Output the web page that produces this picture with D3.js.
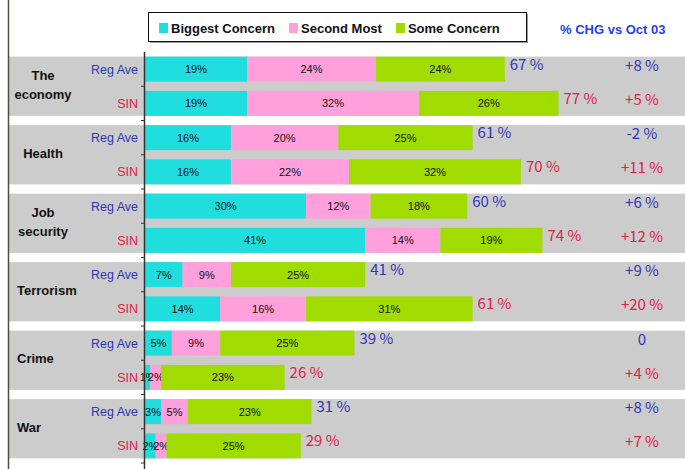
<!DOCTYPE html>
<html>
<head>
<meta charset="utf-8">
<script src="https://cdn.jsdelivr.net/npm/d3@7"></script>
<style>
  body { margin: 0; background: #fff; }
  svg { display: block; }
</style>
</head>
<body>
<main></main>
<script>
// chart values
const categories = ['The\neconomy', 'Health', 'Job\nsecurity', 'Terrorism', 'Crime', 'War']
const seriesNames = ['Reg Ave', 'SIN']
const legendLabels = ['Biggest Concern', 'Second Most', 'Some Concern']

const biggestReg = [19, 16, 30, 7, 5, 3]
const secondReg = [24, 20, 12, 9, 9, 5]
const someReg = [24, 25, 18, 25, 25, 23]

const biggestSin = [19, 16, 41, 14, 1, 2]
const secondSin = [32, 22, 14, 16, 2, 2]
const someSin = [26, 32, 19, 31, 23, 25]

const changeReg = ['+8 %', '-2 %', '+6 %', '+9 %', '0', '+8 %']
const changeSin = ['+5 %', '+11 %', '+12 %', '+20 %', '+4 %', '+7 %']

const headerText = '% CHG vs Oct 03'

const width = 685
const height = 469
const colors = ['#21dede', '#ff9fdc', '#a0dc00']
const blue = '#2f36b4'
const red = '#e0204a'

// build one row per category x series
const rows = []
categories.forEach(function (c, i) {
  rows.push({ key: c + '|reg', cat: i, series: 0, big: biggestReg[i], second: secondReg[i], some: someReg[i], change: changeReg[i] })
  rows.push({ key: c + '|sin', cat: i, series: 1, big: biggestSin[i], second: secondSin[i], some: someSin[i], change: changeSin[i] })
})
rows.forEach(r => { r.total = r.big + r.second + r.some })

const keys = ['big', 'second', 'some']
const stacked = d3.stack().keys(keys)(rows)

const x = d3.scaleLinear().domain([0, 100]).range([145, 682])
const y = d3.scaleBand()
  .domain(rows.map(r => r.key))
  .range([52, 463])
  .paddingInner(0.27)
  .paddingOuter(0.135)

const svg = d3.select('main')
  .append('svg')
  .attr('width', width)
  .attr('height', height)
  .attr('viewBox', '0,0,' + width + ',' + height)

// grey group bands
svg.append('g')
  .selectAll('rect')
  .data(categories)
  .enter()
  .append('rect')
  .attr('x', 9)
  .attr('width', width - 9)
  .attr('y', (d, i) => y(rows[i * 2].key))
  .attr('height', (d, i) => y(rows[i * 2 + 1].key) + y.bandwidth() - y(rows[i * 2].key))
  .style('fill', '#cccccc')

// left border line
svg.append('line')
  .attr('x1', 8.5).attr('x2', 8.5)
  .attr('y1', 0).attr('y2', height)
  .style('stroke', '#4f4f3a')
  .style('stroke-width', '1.5px')

// stacked bars
const layer = svg.append('g')
  .selectAll('g')
  .data(stacked)
  .enter()
  .append('g')
  .style('fill', (d, i) => colors[i])

layer.selectAll('rect')
  .data(d => d)
  .enter()
  .append('rect')
  .attr('x', d => x(d[0]))
  .attr('width', d => x(d[1]) - x(d[0]))
  .attr('y', d => y(d.data.key))
  .attr('height', y.bandwidth())

// values inside segments
layer.selectAll('text')
  .data(d => d)
  .enter()
  .append('text')
  .attr('x', d => (x(d[0]) + x(d[1])) / 2)
  .attr('y', d => y(d.data.key) + y.bandwidth() / 2 + 4)
  .attr('text-anchor', 'middle')
  .style('font-family', '"Liberation Sans", Arial, sans-serif')
  .style('font-size', '11px')
  .style('fill', '#111')
  .text(d => (d[1] - d[0]) + '%')

// axis line and ticks
svg.append('line')
  .attr('x1', 144.5).attr('x2', 144.5)
  .attr('y1', 52).attr('y2', height)
  .style('stroke', '#333')
  .style('stroke-width', '1.5px')

svg.append('g')
  .selectAll('line')
  .data(rows)
  .enter()
  .append('line')
  .attr('x1', 141).attr('x2', 145)
  .attr('y1', d => y(d.key) + y.bandwidth() + (y.step() - y.bandwidth()) / 2)
  .attr('y2', d => y(d.key) + y.bandwidth() + (y.step() - y.bandwidth()) / 2)
  .style('stroke', '#333')
  .style('stroke-width', '1px')

// series labels (Reg Ave / SIN)
svg.append('g')
  .selectAll('text')
  .data(rows)
  .enter()
  .append('text')
  .attr('x', 138)
  .attr('y', d => y(d.key) + y.bandwidth() / 2 + 4.5)
  .attr('text-anchor', 'end')
  .style('font-family', '"Liberation Sans", Arial, sans-serif')
  .style('font-size', '12.5px')
  .style('fill', d => d.series === 0 ? blue : red)
  .text(d => seriesNames[d.series])

// category labels
svg.append('g')
  .selectAll('text')
  .data(categories)
  .enter()
  .append('text')
  .attr('text-anchor', (d, i) => i < 3 ? 'middle' : 'start')
  .style('font-family', '"Liberation Sans", Arial, sans-serif')
  .style('font-weight', 'bold')
  .style('font-size', '13px')
  .style('fill', '#111')
  .each(function (d, i) {
    const lines = d.split('\n')
    const top = y(rows[i * 2].key)
    const bottom = y(rows[i * 2 + 1].key) + y.bandwidth()
    const mid = (top + bottom) / 2 - 2
    const lh = 19
    const tx = i < 3 ? 43 : 17
    d3.select(this)
      .selectAll('tspan')
      .data(lines)
      .enter()
      .append('tspan')
      .attr('x', tx)
      .attr('y', (l, k) => mid + 5 + (k - (lines.length - 1) / 2) * lh)
      .text(l => l)
  })

// totals after bars
svg.append('g')
  .selectAll('text')
  .data(rows)
  .enter()
  .append('text')
  .attr('x', d => x(d.total) + 5)
  .attr('y', d => y(d.key) + y.bandwidth() / 2 + 0.5)
  .style('font-family', '"Noto Sans CJK JP", "DejaVu Sans", sans-serif')
  .style('font-weight', '400')
  .style('font-size', '15px')
  .style('fill', d => d.series === 0 ? blue : red)
  .text(d => d.total + ' %')

// change column
svg.append('g')
  .selectAll('text')
  .data(rows)
  .enter()
  .append('text')
  .attr('x', 642)
  .attr('y', d => y(d.key) + y.bandwidth() / 2 + 1.5)
  .attr('text-anchor', 'middle')
  .style('font-family', '"Noto Sans CJK JP", "DejaVu Sans", sans-serif')
  .style('font-weight', '400')
  .style('font-size', '15px')
  .style('fill', d => d.series === 0 ? blue : red)
  .text(d => d.change)

// header
svg.append('text')
  .attr('x', 560)
  .attr('y', 34)
  .style('font-family', '"Liberation Sans", Arial, sans-serif')
  .style('font-weight', 'bold')
  .style('font-size', '13px')
  .style('fill', '#1f3ff0')
  .text(headerText)

// legend
const legend = svg.append('g')
legend.append('rect')
  .attr('x', 150).attr('y', 14)
  .attr('width', 378).attr('height', 29)
  .style('fill', '#999')
legend.append('rect')
  .attr('x', 148.5).attr('y', 12.5)
  .attr('width', 378).attr('height', 29)
  .style('fill', '#fff')
  .style('stroke', '#111')
  .style('stroke-width', '1px')

let lx = 159
legendLabels.forEach(function (label, i) {
  legend.append('rect')
    .attr('x', lx).attr('y', 23)
    .attr('width', 9).attr('height', 10)
    .style('fill', colors[i])
  const t = legend.append('text')
    .attr('x', lx + 12)
    .attr('y', 32.5)
    .style('font-family', '"Liberation Sans", Arial, sans-serif')
    .style('font-weight', 'bold')
    .style('font-size', '13px')
    .style('fill', '#111')
    .text(label)
  lx = lx + 12 + t.node().getComputedTextLength() + 14
})
</script>
</body>
</html>
